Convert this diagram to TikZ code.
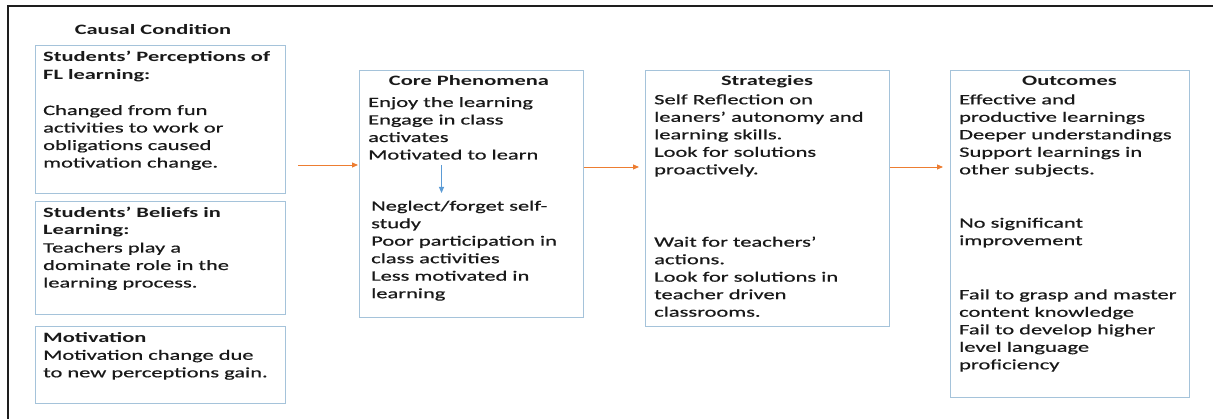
\documentclass[tikz,border=0pt]{standalone}
\usepackage{fontspec}
\setmainfont{Carlito}[FakeStretch=1.57, UprightFeatures={FakeBold=0.6}]
\usetikzlibrary{arrows.meta}
\definecolor{boxblue}{RGB}{165,195,218}
\definecolor{arrorange}{RGB}{237,125,49}
\definecolor{arrblue}{RGB}{91,155,213}
\definecolor{txtcol}{RGB}{25,25,25}
\definecolor{framecol}{RGB}{30,30,30}
\newcommand{\txtlines}[1]{\parbox[t]{330pt}{\raggedright #1}}
\begin{document}
\begin{tikzpicture}[x=1pt,y=-1pt,
  box/.style={draw=boxblue, line width=1.2pt, inner sep=0pt, anchor=north west, fill=white},
  txt/.style={anchor=base west, inner sep=0pt, text=txtcol, font=\fontsize{14.3}{17.5}\selectfont},
  ttl/.style={anchor=base, inner sep=0pt, text=txtcol, font=\fontsize{14.3}{17.5}\selectfont\bfseries},
  oarrow/.style={draw=arrorange, line width=0.9pt, -{Triangle[length=6pt,width=5pt]}},
  barrow/.style={draw=arrblue, line width=0.9pt, -{Triangle[length=6pt,width=5pt]}}]
\useasboundingbox (0,0) rectangle (1213,419);
\draw[framecol, line width=2.8pt] (8,419) -- (8,6) -- (1213,6);

% boxes
\node[box, minimum width=250pt, minimum height=148pt] (b1) at (35,45) {};
\node[box, minimum width=250pt, minimum height=113pt] (b2) at (35,201) {};
\node[box, minimum width=250pt, minimum height=77pt] (b3) at (35,326) {};
\node[box, minimum width=224pt, minimum height=247pt] (core) at (359,70) {};
\node[box, minimum width=244pt, minimum height=256pt] (strat) at (645,70) {};
\node[box, minimum width=239pt, minimum height=327pt] (out) at (950,70) {};

% titles
\node[ttl] (tcausal) at (153,34.3) {Causal Condition};
\node[ttl] (tcore) at (469,86) {Core Phenomena};
\node[ttl] (tstrat) at (767,86) {Strategies};
\node[ttl] (tout) at (1069.5,86) {Outcomes};

% box 1
\node[txt] (b1h) at (43,61.7) {\txtlines{\bfseries Students’ Perceptions of\\FL learning:}};
\node[txt] (b1t) at (43,115) {\txtlines{Changed from fun\\activities to work or\\obligations caused\\motivation change.}};
% box 2
\node[txt] (b2t) at (43,217.5) {\txtlines{\textbf{Students’ Beliefs in}\\\textbf{Learning:}\\Teachers play a\\dominate role in the\\learning process.}};
% box 3
\node[txt] (b3t) at (43,342.3) {\txtlines{\textbf{Motivation}\\Motivation change due\\to new perceptions gain.}};

% core
\node[txt] (coreup) at (368,107) {\txtlines{Enjoy the learning\\Engage in class\\activates\\Motivated to learn}};
\node[txt] (corelow) at (371,210.7) {\txtlines{Neglect/forget self-\\study\\Poor participation in\\class activities\\Less motivated in\\learning}};

% strategies
\node[txt] (strup) at (654,104.3) {\txtlines{Self Reflection on\\leaners’ autonomy and\\learning skills.\\Look for solutions\\proactively.}};
\node[txt] (strlow) at (654,246.7) {\txtlines{Wait for teachers’\\actions.\\Look for solutions in\\teacher driven\\classrooms.}};

% outcomes
\node[txt] (out1) at (959,104.3) {\txtlines{Effective and\\productive learnings\\Deeper understandings\\Support learnings in\\other subjects.}};
\node[txt] (out2) at (959,227.7) {\txtlines{No significant\\improvement}};
\node[txt] (out3) at (959,299.3) {\txtlines{Fail to grasp and master\\content knowledge\\Fail to develop higher\\level language\\proficiency}};

% connectors
\coordinate (a1) at (298,165);
\coordinate (a2) at (600,167);
\coordinate (bs) at (441.5,165);
\coordinate (be) at (441.5,193);
\draw[oarrow, shorten >=1pt] (a1) -- (core.west |- a1);
\draw[oarrow, shorten >=6pt] (core.east |- a2) -- (strat.west |- a2);
\draw[oarrow, shorten >=7pt] (strat.east |- a2) -- (out.west |- a2);
\draw[barrow] (bs) -- (be);
\end{tikzpicture}
\end{document}
